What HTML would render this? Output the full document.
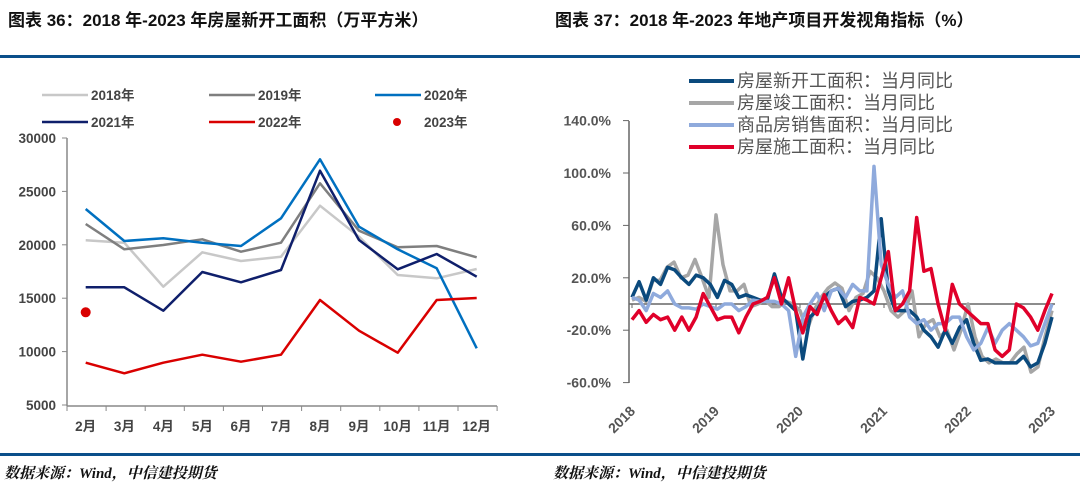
<!DOCTYPE html>
<html><head><meta charset="utf-8">
<style>
body{margin:0;width:1080px;height:500px;background:#fff;overflow:hidden;font-family:"Liberation Sans","Noto Sans CJK SC",sans-serif}
svg{position:absolute;left:0;top:0}
</style></head><body>
<svg id="s" width="1080" height="500" xmlns="http://www.w3.org/2000/svg" font-family="Liberation Sans, Noto Sans CJK SC, sans-serif">
<text x="8" y="26" font-size="17" font-weight="bold" fill="#111">图表 36：2018 年-2023 年房屋新开工面积（万平方米）</text>
<text x="555" y="26" font-size="17" font-weight="bold" fill="#111">图表 37：2018 年-2023 年地产项目开发视角指标（%）</text>
<rect x="0" y="55" width="1080" height="3" fill="#0b4f8a"/>
<rect x="0" y="453" width="1080" height="3" fill="#0b4f8a"/>
<text x="4" y="478" font-size="15" font-weight="bold" font-style="italic" fill="#111" font-family="Liberation Serif, Noto Serif CJK SC, serif">数据来源：Wind，中信建投期货</text>
<text x="553" y="478" font-size="15" font-weight="bold" font-style="italic" fill="#111" font-family="Liberation Serif, Noto Serif CJK SC, serif">数据来源：Wind，中信建投期货</text>
<g id="g"></g>
</svg>
<script>
var g=document.getElementById('g'),h='';
function L(x1,y1,x2,y2,c,w){h+='<line x1="'+x1+'" y1="'+y1+'" x2="'+x2+'" y2="'+y2+'" stroke="'+c+'" stroke-width="'+w+'"/>';}
function T(x,y,t,o){h+='<text x="'+x+'" y="'+y+'" '+(o||'')+'>'+t+'</text>';}
function P(pts,c,w){h+='<polyline fill="none" stroke="'+c+'" stroke-width="'+w+'" stroke-linejoin="round" points="'+pts.join(' ')+'"/>';}
var lab='font-size="13.5" font-weight="bold" fill="#444"';
L(67,138,67,406,'#888',1.5);L(67,406,497,406,'#888',1.5);
for(var i=0;i<6;i++){var y=138+i*53.4;L(62,y,67,y,'#888',1);T(56,y+5,30000-5000*i,lab+' text-anchor="end"');}
for(var i=0;i<=11;i++){var x=67+i*39.1;L(x,406,x,411,'#888',1);}
var zx=[257,373,490,607,723,843,960,1077,1193,1310,1430];
for(var i=0;i<11;i++)T(zx[i]/3,431,(i+2)+'月',lab+' text-anchor="middle"');
function S(a){return a.map(function(v,i){return (zx[i]/3).toFixed(1)+','+(60+v/3).toFixed(1)});}
P(S([541,548,680,577,603,590,437,530,645,655,627]),'#c8c8c8',2.5);
P(S([492,568,555,538,575,548,370,512,562,558,592]),'#7f7f7f',2.5);
P(S([447,543,535,548,558,475,298,500,568,625,865]),'#0070c0',2.5);
P(S([682,682,752,636,667,630,332,540,628,582,650]),'#0f1f6b',2.5);
P(S([908,940,908,884,905,884,720,812,878,720,714]),'#d90000',2.5);
h+='<circle cx="85.7" cy="312.3" r="5" fill="#d90000"/>';
var lg='font-size="13.5" font-weight="bold" fill="#444"';
var leg=[[42,95,'#c8c8c8','2018年'],[209,95,'#7f7f7f','2019年'],[375,95,'#0070c0','2020年'],[42,122,'#0f1f6b','2021年'],[209,122,'#d90000','2022年']];
leg.forEach(function(l){L(l[0],l[1],l[0]+46,l[1],l[2],2.5);T(l[0]+49,l[1]+5,l[3],lg);});
h+='<circle cx="397" cy="122" r="4" fill="#d90000"/>';T(424,127,'2023年',lg);
var rl='font-size="14" font-weight="bold" fill="#555"';
L(629,121,629,383,'#666',1.5);
for(var i=0;i<6;i++){var v=140-40*i,y=304-v*1.31;L(623,y,629,y,'#666',1);T(611,y+5,v.toFixed(1)+'%',rl+' text-anchor="end"');}
L(629,304,1055,304,'#666',1.5);
for(var i=0;i<6;i++){var x=632+i*84;L(x,304,x,308,'#666',1);T(x+4,412,2018+i,rl+' text-anchor="end" transform="rotate(-45 '+(x+4)+' 412)"');}
function R(a){var n=a.length;return a.map(function(v,i){return (632+i*420/(n-1)).toFixed(1)+','+(304-v*1.31).toFixed(1)});}
P(R([3,5,2,18,18,28,32,20,22,34,20,5,68,30,10,10,15,-2,0,3,-2,-2,2,0,-5,-20,-5,5,12,16,12,-5,5,8,25,20,10,-5,-10,-5,10,-25,-15,-12,-25,-20,-35,-20,0,-25,-40,-45,-42,-45,-45,-38,-33,-52,-48,-25,-5]),'#a6a6a6',3.5);
P(R([5,17,3,20,15,28,26,20,15,22,20,15,5,18,15,5,7,5,3,3,23,5,0,-5,-42,-10,-5,5,10,12,-2,2,3,5,10,65,10,-5,-5,-5,-10,-20,-25,-33,-20,-30,-18,-12,-30,-43,-42,-45,-45,-45,-45,-40,-48,-45,-30,-10]),'#0b4a7d',3.5);
P(R([5,3,-5,8,5,10,0,-3,-3,-4,0,-2,-4,0,0,-5,-2,3,2,2,2,0,-5,-40,-10,0,8,-5,10,12,5,15,10,10,105,30,15,5,10,-10,-15,-12,-20,-15,-15,-10,-10,-25,-35,-30,-18,-30,-20,-15,-20,-25,-32,-30,-15,0]),'#8faadc',3.5);
P(R([-12,-5,-14,-8,-12,-10,-20,-10,-20,-10,8,-2,-12,-10,-10,-22,-10,0,2,5,20,0,20,-5,-22,-2,-8,7,-5,-15,-10,-18,5,3,0,20,40,-5,0,10,66,25,27,0,-20,15,0,-5,-10,-15,-15,-35,-40,-35,0,-3,-10,-20,-5,8]),'#e0002a',3.5);
var rg='font-size="18" fill="#555"';
[['#0b4a7d','房屋新开工面积：当月同比'],['#a6a6a6','房屋竣工面积：当月同比'],['#8faadc','商品房销售面积：当月同比'],['#e0002a','房屋施工面积：当月同比']].forEach(function(l,i){var y=81+i*22;L(689,y,734,y,l[0],4);T(737,y+6,l[1],rg);});
g.innerHTML=h;
</script>
</body></html>
